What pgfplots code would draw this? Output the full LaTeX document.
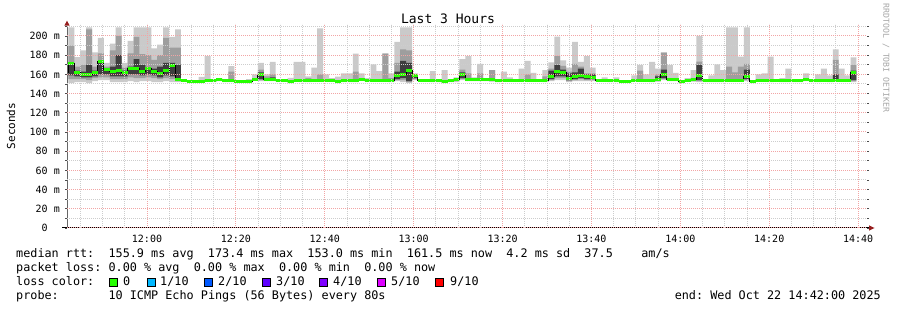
\documentclass[border=0pt]{standalone}
\usepackage{fontspec}
\setmainfont{DejaVu Sans Mono}
\usepackage{pgfplots}
\usepackage{pgfplotstable}
\pgfplotsset{compat=1.18}
\usepgfplotslibrary{fillbetween}
\frenchspacing

\definecolor{smokeA}{RGB}{202,202,202}
\definecolor{smokeB}{RGB}{158,158,158}
\definecolor{smokeC}{RGB}{62,62,62}
\definecolor{loss0}{RGB}{38,255,0}
\definecolor{loss1}{RGB}{0,184,255}
\definecolor{loss2}{RGB}{0,89,255}
\definecolor{loss3}{RGB}{94,0,255}
\definecolor{loss4}{RGB}{126,0,255}
\definecolor{loss5}{RGB}{221,0,255}
\definecolor{loss9}{RGB}{255,0,0}
\definecolor{mgrid}{RGB}{242,165,165}
\definecolor{mingrid}{RGB}{205,205,205}
\definecolor{arrowred}{RGB}{150,30,30}

% x = seconds since 11:42:00, one row per 80 s step
\pgfplotstableread{
x med lo mlo dlo dhi mhi hi
0 162 160 161 161.5 162.5 163 164
18 171 151 155 159 172 190 209
98 161.5 152 155 158 164 168 178
178 160 152 155 157 163 170 185
258 160 151 154 157 170 207 209
338 161.5 153 156 158 164 168 183
418 173 154 157 160 174 182 198
498 165 154 157 160 166 168 172
578 163 152 155 158 168 185 192
658 164 152 155 158 180 200 209
738 162 152 155 158 164 167 172
818 166 153 157 160 168 182 195
898 166 152 156 160 176 199 209
978 163 153 156 159 170 181 209
1058 166 153 157 160 167 180 209
1138 162.5 152 156 159 166 175 187
1218 160.5 152 155 157 168 180 191
1298 164 153 156 159 172 198 209
1378 169 152 155 158 172 188 199
1458 155 152 153 154 170 188 207
1538 154 152.5 153 153.5 154 154.5 155
1618 153 151.5 152 152.5 153 153.5 154
1698 153 151.5 152 152.5 153 153.5 154
1778 153 151.5 152 152.5 153 153.5 157.5
1858 154 152.5 153 153.5 154 155 179
1938 153.5 152 152.5 153 153.5 154 155
2018 154.5 153 153.5 154 154.5 155 156
2098 153.5 152 152.5 153 153.5 154 155
2178 153.5 152 152.5 153 154 163 168.5
2258 153 151.5 152 152.5 153 153.5 154
2338 153 151.5 152 152.5 153 153.5 154
2418 152.5 151 151.5 152 152.5 153 155
2498 155 153.5 154 154.5 155 156 160
2578 160 153 154 155 162 165 172
2658 154.5 153 153.5 154 156 158 160
2738 155 153 153.5 154 157 160 173
2818 154 152.5 153 153.5 154 154.5 155
2898 154 152.5 153 153.5 154 154.5 155
2978 152.6 151 151.5 152 152.6 153 156.5
3058 153.8 152.3 152.8 153.3 153.8 154.5 173
3138 153.5 152 152.5 153 153.5 154 173
3218 153.5 152 152.5 153 154 156 158
3298 154 152.5 153 153.5 154 155 167
3378 154 152.5 153 153.5 154 160 208
3458 154 152.5 153 153.5 154 155 160
3538 153.8 152.3 152.8 153.3 153.8 154.5 156
3618 152.6 151 151.5 152 152.6 153.5 157.7
3698 153.5 152 152.5 153 153.5 154.5 161
3778 153.5 152 152.5 153 153.5 154.5 161
3858 153.5 152 152.5 153 154 163 181.6
3938 155 153.5 154 154.5 155 156 161
4018 154 152.5 153 153.5 154 155 156
4098 154 152.5 153 153.5 154 155 170.5
4178 154 152.5 153 153.5 154 155 163.5
4258 154 152.5 153 153.5 155 181.6 182
4338 153.8 152 152.5 153 154 156 161
4418 158.5 153 154 155 163 172 194
4498 160 152 154 156 174 186 209
4578 164.5 151 152 153 172 185 209
4658 159.3 154 155 156 159.5 160 161
4738 154 152.5 153 153.5 154 154.5 155
4818 154 152.5 153 153.5 154 154.5 155
4898 153.5 152 152.5 153 153.5 154.5 163.5
4978 153.5 152 152.5 153 153.5 154 155
5058 152.6 151 151.5 152 152.6 153.5 164.5
5138 153.5 152 152.5 153 153.5 154 155
5218 155 152 153 154 155 156 157
5298 160 154 155 156 162 165 176
5378 154.6 153 153.5 154 155 161 179
5458 154.6 153 153.5 154 154.6 155 157
5538 154.6 153 153.5 154 155 161 171
5618 154.6 153 153.5 154 154.6 155 156
5698 154.6 152.5 153 154 155 164.5 164.5
5778 153.5 152 152.5 153 153.5 154 155
5858 154 152.5 153 153.5 154 155 163
5938 154 152.5 153 153.5 154 155 157
6018 154 152.5 153 153.5 154 154.5 155
6098 154 152.5 153 153.5 154 155 166
6178 154 152.5 153 153.5 154 160 174
6258 154 152.5 153 153.5 154 155 161.7
6338 154 152.5 153 153.5 154 154.5 155
6418 154 152 152.5 153 155 158 164.5
6498 157.6 153 154 155 164 166 172.5
6578 163 154 156 158 170 179 199.3
6658 162 154 156 158 165 169 174.7
6738 156 152 153 154 161 163 167
6818 157.6 153 154 155 162 171 194
6898 159 153 155 156 166 168 173
6978 157.6 153 154 155 160 161 179
7058 157 153 154 155 160 161 167
7138 154 152.5 153 153.5 154 154.5 155
7218 154 152.5 153 153.5 154 155 157
7298 153.5 152 152.5 153 153.5 154 155
7378 153.5 152 152.5 153 153.5 154 157
7458 153 151.5 152 152.5 153 153.5 154
7538 153 151.5 152 152.5 153 153.5 154
7618 154 152.5 153 153.5 154 155 159
7698 154 152.5 153 153.5 154 164 170
7778 154 152.5 153 153.5 154 155 160
7858 153.5 152 152.5 153 153.5 155 173
7938 155 152.5 153 154 158 160 166
8018 160 154 155 156 165 182.6 183
8098 154.6 153 153.5 154 154.6 155.5 170
8178 154.6 153 153.5 154 154.6 155.5 161.7
8258 152.3 151 151.5 152 152.3 153 153.5
8338 154 152.5 153 153.5 154 154.5 156
8418 154.6 152.5 153 154 155 156 164.5
8498 159.3 152 153 154 170 173.4 200
8578 153.5 152 152.5 153 153.5 154 155
8658 153.5 152 152.5 153 153.5 154 159
8738 153.5 152 152.5 153 153.5 155 170.5
8818 153.5 152 152.5 153 153.5 155 164.5
8898 154 152.5 153 153.5 155 168 209
8978 154 152.5 153 153.5 155 162 209
9058 154 152.5 153 153.5 155 168 178.6
9138 157.6 153 154 155 165 171 209
9218 152.6 151 151.5 152 152.6 153 153.5
9298 154 152.5 153 153.5 154 155 160
9378 154 152.5 153 153.5 154 155 161
9458 153.5 152 152.5 153 153.5 155 178.6
9538 154 152.5 153 153.5 154 154.5 155
9618 153.5 152 152.5 153 153.5 154 156
9698 153.5 152 152.5 153 153.5 155 166
9778 153.5 152 152.5 153 153.5 154 155
9858 153.5 152 152.5 153 153.5 154 155
9938 154.6 153 153.5 154 154.6 155.5 161
10018 153.5 152 152.5 153 153.5 154 155
10098 153.5 152 152.5 153 153.5 154.5 160
10178 154 152.5 153 153.5 154 155 166
10258 153.5 152 152.5 153 153.5 154.5 159
10338 154 152.5 153 153.5 160 175 186
10418 154 152.5 153 153.5 154 155 166
10498 154 152.5 153 153.5 154 155 159
10578 161.7 152 153 154 164 170 177.7
10658 161.7 152 153 154 164 170 177.7
}\smoke

\begin{document}
\begin{tikzpicture}[x=1pt,y=1pt]
\fill[white] (0,0) rectangle (897,310);
\begin{axis}[
  at={(67pt,82pt)}, anchor=south west,
  scale only axis, width=800pt, height=204pt,
  xmin=0, xmax=10800, ymin=0, ymax=212.5,
  scaled x ticks=false, scaled y ticks=false,
  axis line style={draw=none},
  axis on top,
  fill between/on layer=main,
  xtick={1080,2280,...,10680},
  xticklabels={12:00,12:20,12:40,13:00,13:20,13:40,14:00,14:20,14:40},
  minor xtick={180,480,...,10680},
  ytick={0,20,...,200},
  yticklabels={0\phantom{\ m},20 m,40 m,60 m,80 m,100 m,120 m,140 m,160 m,180 m,200 m},
  minor ytick={10,30,...,210},
  tick align=outside,
  major tick length=2pt, minor tick length=2pt,
  xtick style={draw=none},
  ytick style={black!70, line width=0.8pt},
  grid=both,
  major grid style={mgrid, dash pattern=on 1pt off 1pt, line width=1pt},
  minor grid style={mingrid, dash pattern=on 1pt off 1pt, line width=1pt},
  tick label style={font=\fontsize{10}{10}\selectfont},
  xticklabel style={anchor=north, inner sep=0pt, yshift=-4.7pt},
  yticklabel style={anchor=east, inner sep=0pt, xshift=-5pt},
]
\addplot[draw=none, const plot mark left, name path=lo] table[x=x,y=lo]{\smoke};
\addplot[draw=none, const plot mark left, name path=hi] table[x=x,y=hi]{\smoke};
\addplot[smokeA] fill between[of=lo and hi];
\addplot[draw=none, const plot mark left, name path=mlo] table[x=x,y=mlo]{\smoke};
\addplot[draw=none, const plot mark left, name path=mhi] table[x=x,y=mhi]{\smoke};
\addplot[smokeB] fill between[of=mlo and mhi];
\addplot[draw=none, const plot mark left, name path=dlo] table[x=x,y=dlo]{\smoke};
\addplot[draw=none, const plot mark left, name path=dhi] table[x=x,y=dhi]{\smoke};
\addplot[smokeC] fill between[of=dlo and dhi];
\addplot[black, line width=1pt, const plot mark left] table[x=x,y=med]{\smoke};
\addplot[loss0, line width=3pt, jump mark left] table[x=x,y=med]{\smoke};
\end{axis}
% axis lines with arrows
\draw[black, line width=1pt] (62,82) -- (869,82);
\fill[arrowred] (869,79.3) -- (874.5,82) -- (869,84.7) -- cycle;
\draw[black!60, line width=1pt] (67,82) -- (67,284.3);
\fill[arrowred] (64.3,284.3) -- (67,289.3) -- (69.7,284.3) -- cycle;
% titles
\node[anchor=base, inner sep=0pt, font=\fontsize{13}{13}\selectfont] at (448,286) {Last 3 Hours};
\node[rotate=90, inner sep=0pt, font=\fontsize{11}{11}\selectfont] at (11,184) {Seconds};
\node[rotate=-90, inner sep=0pt, text=black!35, font=\fontsize{8.2}{8}\selectfont] at (886,252) {RRDTOOL / TOBI OETIKER};
% legend lines
\begin{scope}[every node/.style={anchor=base west, inner sep=0pt, font=\fontsize{11.8}{14}\selectfont}]
\node at (16,52) {median rtt:\ \ 155.9 ms avg\ \ 173.4 ms max\ \ 153.0 ms min\ \ 161.5 ms now\ \ 4.2 ms sd\ \ 37.5\ \ \ \ am/s};
\node at (16,38) {packet loss: 0.00 \% avg\ \ 0.00 \% max\ \ 0.00 \% min\ \ 0.00 \% now};
\node at (16,24) {loss color:};
\node at (123,24) {0};
\node at (160,24) {1/10};
\node at (218,24) {2/10};
\node at (276,24) {3/10};
\node at (333,24) {4/10};
\node at (391,24) {5/10};
\node at (450,24) {9/10};
\node at (16,10) {probe:\ \ \ \ \ \ \ 10 ICMP Echo Pings (56 Bytes) every 80s};
\node[anchor=base east] at (881,10) {end: Wed Oct 22 14:42:00 2025};
\end{scope}
\foreach \bx/\bc in {109/loss0,147/loss1,204/loss2,262/loss3,319/loss4,377/loss5,435/loss9}
  \filldraw[fill=\bc, draw=black, line width=0.8pt] (\bx,23.5) rectangle ++(8,8);
\pgfresetboundingbox
\path[use as bounding box] (0,0) rectangle (897,310);
\end{tikzpicture}
\end{document}
